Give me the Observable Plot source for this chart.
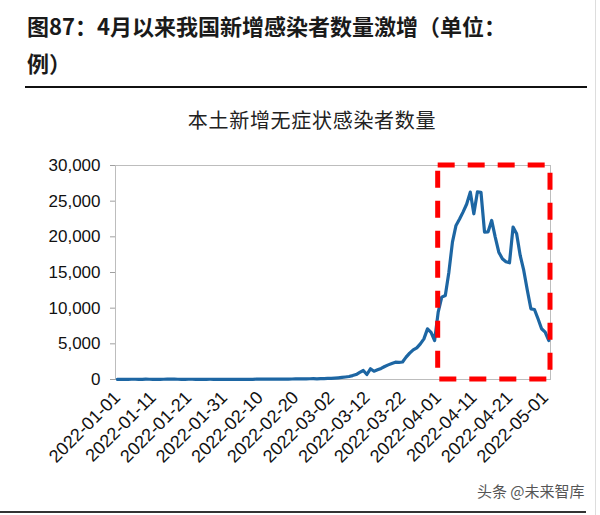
<!DOCTYPE html>
<html><head><meta charset="utf-8">
<script src="https://cdn.jsdelivr.net/npm/d3@7"></script>
<script src="https://cdn.jsdelivr.net/npm/@observablehq/plot@0.6"></script>
<style>
body{margin:0;background:#fff;}
#wrap{position:relative;width:600px;height:515px;overflow:hidden;background:#fff;font-family:"Liberation Sans",Arial,sans-serif;}
#title{position:absolute;left:27px;top:7px;font-family:"Noto Sans CJK SC",sans-serif;font-weight:bold;font-size:22px;line-height:37px;color:#1a1a1a;white-space:nowrap;}
#rule{position:absolute;left:25px;top:86px;width:562px;height:0;border-top:2px solid #111;}
#sub{position:absolute;left:0;width:624px;text-align:center;top:108px;font-family:"Noto Sans CJK SC",sans-serif;font-size:20px;line-height:24px;letter-spacing:0.7px;color:#222;}
#chart{position:absolute;left:0;top:140px;}
#foot{position:absolute;left:477px;top:481px;font-family:"Noto Sans CJK SC",sans-serif;font-size:15px;line-height:20px;color:#555;white-space:nowrap;}
#bottom{position:absolute;left:0;top:511px;width:586px;height:0;border-top:2px solid #333;}
#edge{position:absolute;left:595px;top:0;height:515px;width:0;border-left:1px solid #ddd;}
</style>
</head><body>
<div id="wrap">
  <div id="title">图87：4月以来我国新增感染者数量激增（单位：<br>例）</div>
  <div id="rule"></div>
  <div id="sub">本土新增无症状感染者数量</div>
  <div id="chart"></div>
  <div id="foot">头条 @未来智库</div>
  <div id="bottom"></div>
  <div id="edge"></div>
</div>
<script>
const startDate = "2022-01-01";
// daily new local asymptomatic infections, 2022-01-01 .. 2022-05-02
const janValues = [24,30,28,21,36,33,25,31,40,38,29,34,27,36,45,52,41,34,30,26,35,38,29,24,31,28,33,27,25,22,19];
const febValues = [21,18,16,20,23,26,31,29,42,48,55,47,39,44,52,60,58,66,72,80,88,76,95,104,112,98,120,135];
const marValues = [150,170,200,240,290,350,420,550,700,1000,1260,700,1500,1160,1350,1550,1820,2050,2250,2430,2400,2450,3130,3700,4160,4440,5000,5700,7100,6600,5470];
const aprValues = [9440,11540,11780,15050,19260,21600,22500,23500,24600,26270,23230,26300,26250,20660,20700,22300,19960,17850,16920,16500,16360,21360,20430,17390,15290,12500,9910,9820,8510,7110];
const mayValues = [6640,5470];
const xTicks = ["2022-01-01","2022-01-11","2022-01-21","2022-01-31","2022-02-10","2022-02-20","2022-03-02","2022-03-12","2022-03-22","2022-04-01","2022-04-11","2022-04-21","2022-05-01"];
const yTicks = [0,5000,10000,15000,20000,25000,30000];
const highlight = {start: "2022-04-01", end: "2022-05-02T12:00Z", low: 0, high: 30000};

const values = [...janValues, ...febValues, ...marValues, ...aprValues, ...mayValues];
const data = values.map((v, i) => ({date: d3.utcDay.offset(new Date(startDate), i), value: v}));

const chart = Plot.plot({
  width: 600,
  height: 340,
  marginLeft: 115,
  marginRight: 50,
  marginTop: 25,
  marginBottom: 101,
  style: {fontFamily: "'Liberation Sans', Arial, sans-serif", background: "transparent", color: "#111"},
  x: {type: "utc", domain: [new Date("2021-12-31T12:00Z"), new Date("2022-05-02T12:00Z")]},
  y: {domain: [0, 30000]},
  marks: [
    Plot.frame({stroke: "#bdbdbd"}),
    Plot.axisY({ticks: yTicks, tickSize: 5, tickPadding: 10, tickFormat: d3.format(","), fontSize: 17, stroke: "#a0a0a0", fill: "#111", label: null}),
    Plot.axisX({ticks: xTicks.map(d => new Date(d)), tickFormat: d3.utcFormat("%Y-%m-%d"), tickRotate: -45, tickSize: 0, tickPadding: 15, fontSize: 18, fill: "#111", label: null}),
    Plot.lineY(data, {x: "date", y: "value", stroke: "#1d66a3", strokeWidth: 3.2, strokeLinejoin: "round"}),
    Plot.rect([highlight], {x1: d => new Date(d.start), x2: d => new Date(d.end), y1: "low", y2: "high", fill: "none", stroke: "#ff0000", strokeWidth: 5, strokeDasharray: "17,13"})
  ]
});
document.getElementById("chart").appendChild(chart);
</script>
</body></html>
